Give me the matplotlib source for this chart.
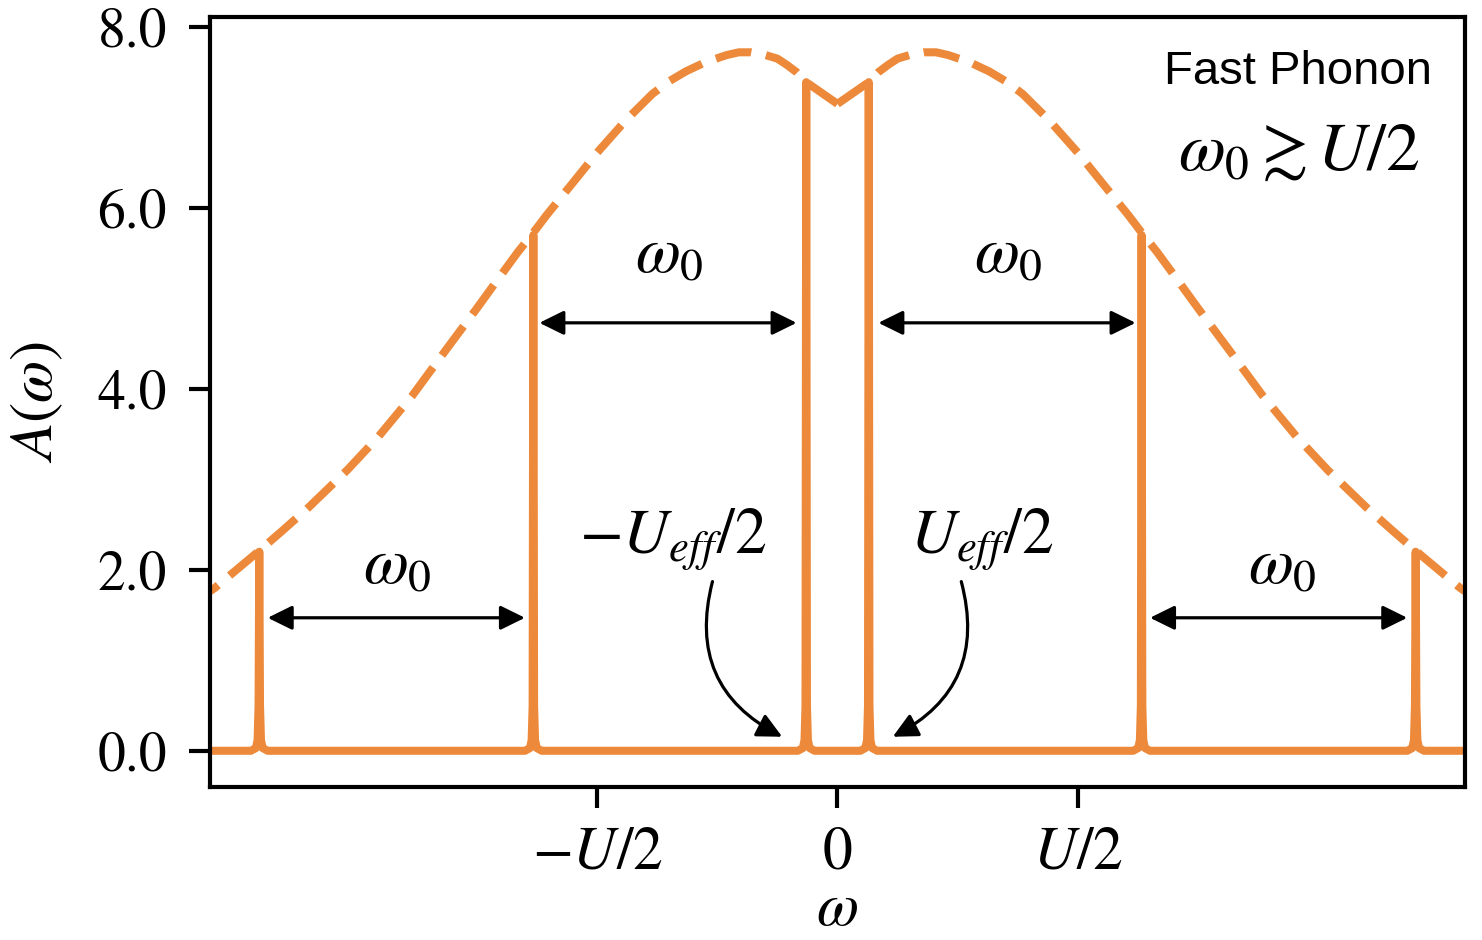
import numpy as np
import matplotlib
matplotlib.use("Agg")
import matplotlib.pyplot as plt

plt.rcParams['font.family'] = 'serif'
plt.rcParams['font.serif'] = ['STIXGeneral', 'Liberation Serif', 'DejaVu Serif']
plt.rcParams['mathtext.fontset'] = 'stix'

orange = '#ED893A'

# envelope (right half, symmetric), omega in units of U/2
env_x = np.array([0.00, 0.13, 0.17, 0.21, 0.25, 0.30, 0.36, 0.41, 0.46, 0.55,
                  0.63, 0.70, 0.77, 0.88, 1.00, 1.10, 1.21, 1.27, 1.33, 1.41,
                  1.50, 1.64, 1.77, 1.91, 2.04, 2.20, 2.31, 2.41, 2.59, 2.70])
env_y = np.array([7.15, 7.39, 7.50, 7.58, 7.65, 7.69, 7.72, 7.72, 7.69, 7.61,
                  7.51, 7.40, 7.26, 6.97, 6.61, 6.28, 5.92, 5.71, 5.51, 5.22,
                  4.89, 4.39, 3.92, 3.47, 3.10, 2.69, 2.43, 2.20, 1.80, 1.60])

# sharp peaks of the spectral function
peak_pos = [-2.405, -1.265, -0.13, 0.13, 1.265, 2.405]
peak_height = [2.20, 5.70, 7.39, 7.39, 5.70, 2.20]
x_min, x_max = -2.70, 2.70

# spike shape around each peak (offset, height); None -> peak height
spike_dx = [-0.035, -0.014, -0.007, -0.003, 0.0, 0.003, 0.007, 0.014, 0.035]
spike_dy = [0.0, 0.03, 0.12, 0.5, None, 0.5, 0.12, 0.03, 0.0]

# omega_0 arrows: (start, end, height)
w0_arrows = [(-2.37, -1.30, 1.47), (-1.24, -0.17, 4.73),
             (0.17, 1.24, 4.73), (1.30, 2.37, 1.47)]
w0_labels = [(-1.83, 2.02), (-0.70, 5.45), (0.71, 5.45), (1.85, 2.02)]

spec_x = [x_min]
spec_y = [0.0]
for c, h in zip(peak_pos, peak_height):
    for dx, dy in zip(spike_dx, spike_dy):
        spec_x.append(c + dx)
        spec_y.append(h if dy is None else dy)
spec_x.append(x_max)
spec_y.append(0.0)

fig = plt.figure(figsize=(7.41, 4.70), dpi=200)
ax = fig.add_axes([0.1417, 0.1628, 0.8468, 0.8191])

lw = 2.9
dash = (0, (4.5, 1.85))
ax.plot(spec_x, spec_y, color=orange, lw=lw, solid_joinstyle='round')
ax.plot(env_x, env_y, color=orange, lw=lw, linestyle=dash)
ax.plot(-env_x, env_y, color=orange, lw=lw, linestyle=dash)

for x0, x1, y in w0_arrows:
    ax.annotate('', xy=(x1, y), xytext=(x0, y),
                arrowprops=dict(arrowstyle='<|-|>,head_length=0.75,head_width=0.37',
                                mutation_scale=10, color='k', lw=1.15,
                                shrinkA=0, shrinkB=0))
for x, y in w0_labels:
    ax.text(x, y, r'$\omega_0$', fontsize=23.5, ha='center', va='center')

ax.text(-0.686, 2.33, r'$-U_{eff}/2$', fontsize=23, ha='center', va='center')
ax.text(0.602, 2.33, r'$U_{eff}/2$', fontsize=23, ha='center', va='center')
ax.annotate('', xy=(-0.23, 0.155), xytext=(-0.52, 1.87),
            arrowprops=dict(arrowstyle='-|>,head_length=0.75,head_width=0.37',
                            mutation_scale=10, color='k', lw=1.15,
                            shrinkA=0, shrinkB=0,
                            connectionstyle='arc3,rad=0.4'))
ax.annotate('', xy=(0.23, 0.155), xytext=(0.515, 1.87),
            arrowprops=dict(arrowstyle='-|>,head_length=0.75,head_width=0.37',
                            mutation_scale=10, color='k', lw=1.15,
                            shrinkA=0, shrinkB=0,
                            connectionstyle='arc3,rad=-0.4'))

ax.text(0.867, 0.9286, 'Fast Phonon', family='Liberation Sans', fontsize=17,
        ha='center', va='center', transform=ax.transAxes)
ax.text(0.868, 0.821, r'$\omega_0 \gtrsim U/2$', fontsize=24.5,
        ha='center', va='center', transform=ax.transAxes)

ax.set_xlim(-2.61, 2.61)
ax.set_ylim(-0.40, 8.11)
ax.set_xticks([-1, 0, 1])
ax.set_xticklabels([r'$-U/2$', '0', r'$U/2$'])
ax.set_yticks([0, 2, 4, 6, 8])
ax.set_yticklabels(['%.1f' % v for v in [0, 2, 4, 6, 8]])
ax.tick_params(labelsize=20, length=7.5, width=1.5, direction='out')
ax.tick_params(axis='x', labelsize=21.5, pad=7)
ax.tick_params(axis='y', pad=8)
for s in ax.spines.values():
    s.set_linewidth(1.5)

ax.set_xlabel(r'$\omega$', fontsize=22)
ax.set_ylabel(r'$A(\omega)$', fontsize=22)
ax.xaxis.set_label_coords(0.5, -0.125)
ax.yaxis.set_label_coords(-0.1155, 0.5)

fig.savefig('out.png', dpi=200)
